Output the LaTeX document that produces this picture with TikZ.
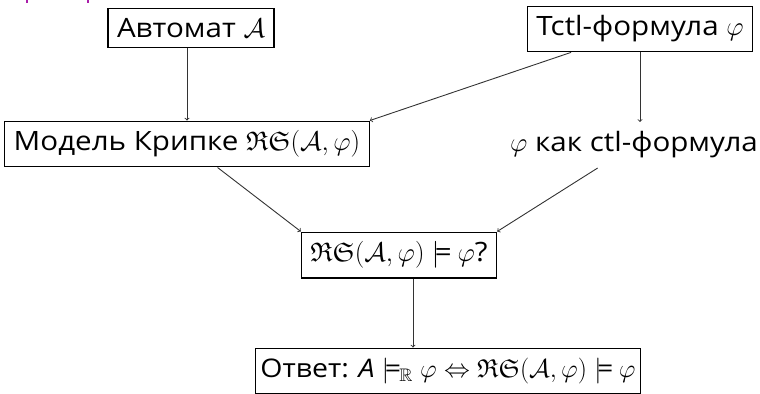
\RequirePackage{fix-cm}
\documentclass[tikz,border=0pt]{standalone}
\usepackage{amsmath,amssymb}
\usepackage{fontspec}
\setmainfont{Open Sans}[Scale=0.99, FakeStretch=1.11]
% scalable Fraktur and blackboard letters at any size
\DeclareFontFamily{U}{euf}{}
\DeclareFontShape{U}{euf}{m}{n}{<-6>eufm5<6-8>eufm7<8->eufm10}{}
\DeclareFontFamily{U}{msb}{}
\DeclareFontShape{U}{msb}{m}{n}{<-6>msbm5<6-8>msbm7<8->msbm10}{}
\usetikzlibrary{calc}
\definecolor{titlemag}{RGB}{170,30,170}
\begin{document}
\begin{tikzpicture}[x=1bp,y=1bp,
  every node/.style={font=\fontsize{27}{32}\selectfont, inner xsep=9bp, inner ysep=9.5bp},
  stepbox/.style={draw, line width=1.1bp},
  conn/.style={->, line width=0.9bp, draw=black!80}]
\useasboundingbox (0,0) rectangle (760,-393);

% fragments of the title line above the frame
\draw[titlemag, line width=2bp] (27,0) -- (27,-3);
\draw[titlemag, line width=2bp] (88,0) -- (88,-3);

\node[stepbox] (aut) at (191,-28) {Автомат $\mathcal{A}$};
\node[stepbox] (tctl) at (640,-29) {Tctl-формула $\varphi$};
\node[stepbox] (kripke) at (187,-144) {Модель Крипке $\mathfrak{RS}(\mathcal{A},\varphi)$};
\node (ctl) at (634,-145) {$\varphi$ как ctl-формула};
\node[stepbox] (check) at (399,-255) {$\mathfrak{RS}(\mathcal{A},\varphi)\models\varphi$?};
\node[stepbox, font=\fontsize{26}{31}\selectfont, inner xsep=5bp, inner ysep=10bp] (answer) at (448,-371)
  {Ответ: $\text{\itshape A}\models_{\mathbb{R}}\varphi\Leftrightarrow\mathfrak{RS}(\mathcal{A},\varphi)\models\varphi$};

\draw[conn] ([xshift=-4bp]aut.south) -- ([xshift=-4bp]aut.south |- kripke.north);
\draw[conn] (tctl.south) -- (tctl.south |- ctl.north);
\draw[conn] (tctl) -- (kripke.north east);
\draw[conn] (kripke) -- (check.north west);
\draw[conn] (ctl) -- (check.north east);
\draw[conn] ([xshift=14bp]check.south) -- ([xshift=14bp]check.south |- answer.north);
\end{tikzpicture}
\end{document}
